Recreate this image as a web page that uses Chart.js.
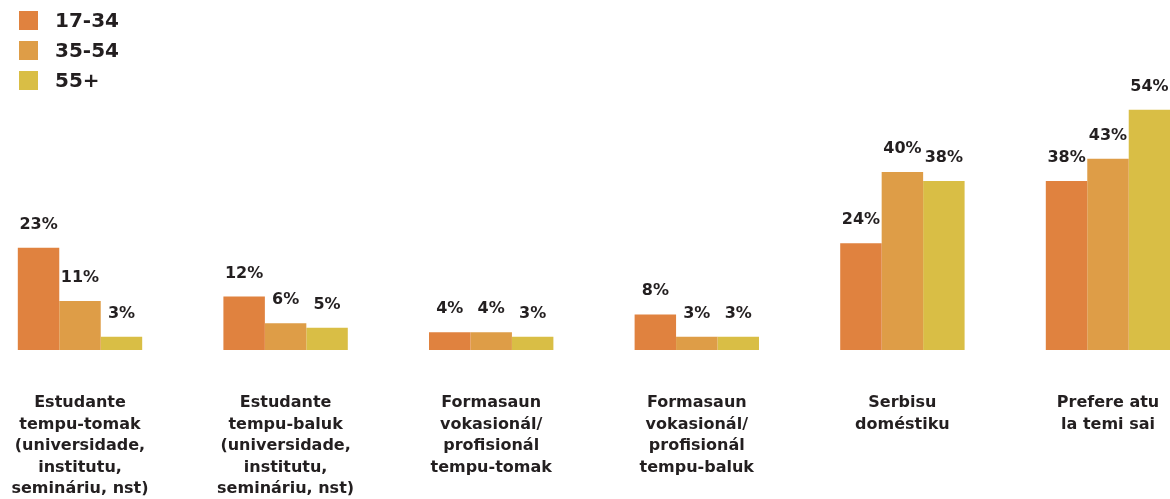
<!DOCTYPE html>
<html>
<head>
<meta charset="utf-8">
<script src="https://cdn.jsdelivr.net/npm/chart.js@4"></script>
<style>
  html, body { margin: 0; padding: 0; background: #fff; overflow: hidden; }
  #wrap { position: relative; width: 1170px; height: 499px; }
</style>
</head>
<body>
<div id="wrap"><canvas id="chart1"></canvas></div>
<script>
var categories = [
    ["Estudante", "tempu-tomak", "(universidade,", "institutu,", "semináriu, nst)"],
    ["Estudante", "tempu-baluk", "(universidade,", "institutu,", "semináriu, nst)"],
    ["Formasaun", "vokasionál/", "profisionál", "tempu-tomak"],
    ["Formasaun", "vokasionál/", "profisionál", "tempu-baluk"],
    ["Serbisu", "doméstiku"],
    ["Prefere atu", "la temi sai"]
];
var seriesNames = ["17-34", "35-54", "55+"];
var age17to34 = [23, 12, 4, 8, 24, 38];
var age35to54 = [11, 6, 4, 3, 40, 43];
var age55plus = [3, 5, 3, 3, 38, 54];
var colors = ["#E0823F", "#DE9D47", "#D9BE45"];

var FONT = "'DejaVu Sans', sans-serif";
var TEXT = "#231F20";

// percent labels above each bar
var barLabels = {
    id: 'barLabels',
    afterDatasetsDraw: function(chart) {
        var ctx = chart.ctx;
        ctx.save();
        ctx.font = "bold 16px " + FONT;
        ctx.fillStyle = TEXT;
        ctx.textAlign = 'center';
        ctx.textBaseline = 'alphabetic';
        chart.data.datasets.forEach(function(ds, i) {
            chart.getDatasetMeta(i).data.forEach(function(bar, j) {
                ctx.fillText(ds.data[j] + '%', bar.x, bar.y - 19);
            });
        });
        ctx.restore();
    }
};

// vertical legend, top-left
var stackLegend = {
    id: 'stackLegend',
    afterDraw: function(chart) {
        var ctx = chart.ctx;
        ctx.save();
        ctx.font = "bold 20px " + FONT;
        ctx.textBaseline = 'middle';
        chart.data.datasets.forEach(function(ds, i) {
            var y = 21 + i * 30;
            ctx.fillStyle = ds.backgroundColor;
            ctx.fillRect(19, y - 10, 19, 19);
            ctx.fillStyle = TEXT;
            ctx.fillText(ds.label, 55, y + 1);
        });
        ctx.restore();
    }
};

var chartCanvas1 = document.getElementById('chart1');
var configCanvas1 = {
    type: "bar",
    data: {
        labels: categories,
        datasets: [
            { label: seriesNames[0], data: age17to34, backgroundColor: colors[0] },
            { label: seriesNames[1], data: age35to54, backgroundColor: colors[1] },
            { label: seriesNames[2], data: age55plus, backgroundColor: colors[2] }
        ]
    },
    options: {
        responsive: true,
        maintainAspectRatio: false,
        animation: false,
        datasets: {
            bar: { clip: false, categoryPercentage: 0.605, barPercentage: 1, borderWidth: 0 }
        },
        layout: { padding: { left: 80, right: 62, top: 83, bottom: 0 } },
        plugins: {
            legend: { display: false },
            tooltip: { enabled: false }
        },
        scales: {
            x: {
                offset: false,
                grid: { display: false, drawTicks: false },
                border: { display: false },
                ticks: {
                    padding: 42,
                    maxRotation: 0,
                    autoSkip: false,
                    color: TEXT,
                    font: { family: FONT, size: 16, weight: 'bold', lineHeight: 1.35 }
                },
                afterFit: function(scale) {
                    scale.paddingLeft = 0;
                    scale.paddingRight = 0;
                    scale.height = 149;
                }
            },
            y: {
                display: false,
                min: 0,
                max: 60
            }
        }
    },
    plugins: [barLabels, stackLegend]
};

var myChart1 = new Chart(chartCanvas1, configCanvas1);
</script>
</body>
</html>
